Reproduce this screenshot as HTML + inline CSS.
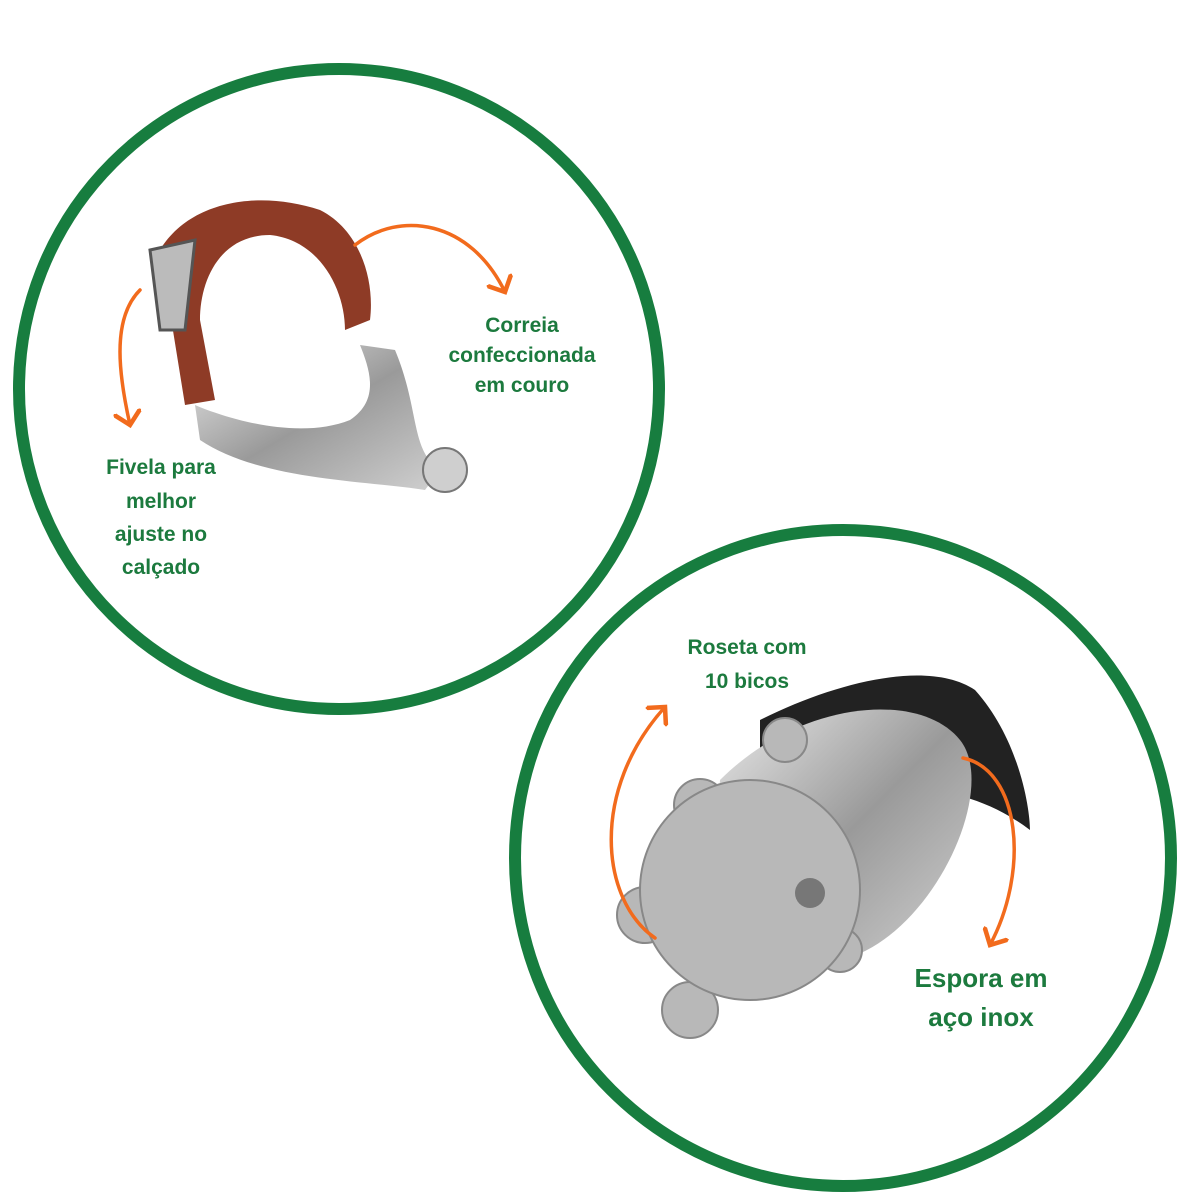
<!DOCTYPE html>
<html><head><meta charset="utf-8"><style>
html,body{margin:0;padding:0;background:#fff}
svg{display:block}
text{font-family:"Liberation Sans",sans-serif;font-weight:bold;fill:#1c7a3e;font-size:21px;text-anchor:middle}
</style></head><body>
<svg width="1200" height="1200" viewBox="0 0 1200 1200">
<defs>
<linearGradient id="m" x1="0" y1="0" x2="1" y2="1"><stop offset="0" stop-color="#e8e8e8"/><stop offset="0.5" stop-color="#9a9a9a"/><stop offset="1" stop-color="#d0d0d0"/></linearGradient>
<marker id="a" markerWidth="8" markerHeight="8" refX="4" refY="4" orient="auto" markerUnits="strokeWidth"><path d="M0,0 L4,4 L0,8" fill="none" stroke="#f26b1d" stroke-width="1.3"/></marker>
</defs>
<circle cx="339" cy="389" r="320" fill="none" stroke="#177d3f" stroke-width="12"/>
<circle cx="843" cy="858" r="328" fill="none" stroke="#177d3f" stroke-width="12"/>
<!-- spur 1 -->
<path d="M160,250 C190,200 260,190 320,210 C360,230 375,280 370,320 L345,330 C345,290 320,240 270,235 C220,235 200,280 200,320 L215,400 L185,405 Z" fill="#8e3b26"/>
<path d="M150,250 L195,240 L185,330 L160,330 Z" fill="#bbb" stroke="#555" stroke-width="3"/>
<path d="M195,405 C230,420 300,440 350,420 C380,400 370,370 360,345 L395,350 C420,410 410,450 440,470 L425,490 C360,480 260,480 200,440 Z" fill="url(#m)"/>
<circle cx="445" cy="470" r="22" fill="#cfcfcf" stroke="#777" stroke-width="2"/>
<!-- spur 2 -->
<path d="M760,720 C840,680 930,660 975,690 C1020,740 1030,810 1030,830 C990,800 950,790 910,790 C850,800 800,840 760,860 Z" fill="#222"/>
<path d="M720,780 C800,700 920,690 960,740 C1000,790 930,940 840,960 C760,970 710,900 720,780 Z" fill="url(#m)"/>
<g fill="#b8b8b8" stroke="#888" stroke-width="2">
<circle cx="785" cy="740" r="22"/><circle cx="700" cy="805" r="26"/><circle cx="645" cy="915" r="28"/><circle cx="690" cy="1010" r="28"/><circle cx="840" cy="950" r="22"/>
<circle cx="750" cy="890" r="110"/>
</g>
<circle cx="810" cy="893" r="15" fill="#777"/>
<!-- arrows -->
<g fill="none" stroke="#f26b1d" stroke-width="3.5" stroke-linecap="round" marker-end="url(#a)">
<path d="M140,290 C110,320 120,380 130,425"/>
<path d="M355,245 C400,210 470,220 505,292"/>
<path d="M655,938 C600,900 590,790 665,707"/>
<path d="M963,758 C1020,770 1030,870 990,945"/>
</g>
<text x="161" y="474">Fivela para</text>
<text x="161" y="508">melhor</text>
<text x="161" y="541">ajuste no</text>
<text x="161" y="574">calçado</text>
<text x="522" y="332">Correia</text>
<text x="522" y="362">confeccionada</text>
<text x="522" y="392">em couro</text>
<text x="747" y="654">Roseta com</text>
<text x="747" y="688">10 bicos</text>
<text x="981" y="987" style="font-size:26px">Espora em</text>
<text x="981" y="1026" style="font-size:26px">aço inox</text>
</svg>
</body></html>
